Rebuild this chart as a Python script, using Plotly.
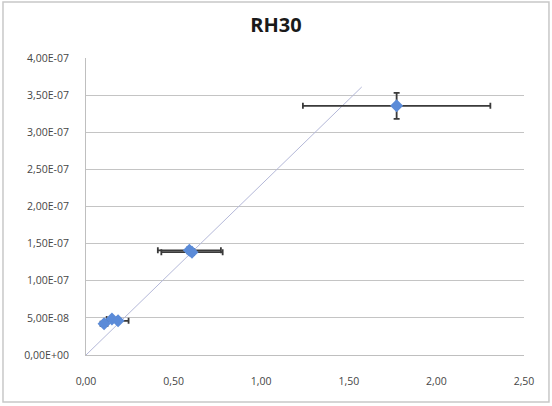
import plotly.graph_objects as go

# punti misurati (x, y) con barre d'errore
pt_x = [0.103, 0.148, 0.183, 0.59, 0.605, 1.773]
pt_y = [4.2e-8, 4.85e-8, 4.6e-8, 1.41e-7, 1.385e-7, 3.356e-7]
err_x = [0.02, 0.03, 0.06, 0.18, 0.175, 0.535]
err_y = [2e-9, 2e-9, 2e-9, 4e-9, 4e-9, 1.75e-8]

# retta di tendenza
trend_x = [0.0, 1.574]
trend_y = [0.0, 3.61e-7]

y_ticks = [0, 5e-8, 1e-7, 1.5e-7, 2e-7, 2.5e-7, 3e-7, 3.5e-7, 4e-7]
y_labels = ["0,00E+00", "5,00E-08", "1,00E-07", "1,50E-07", "2,00E-07",
            "2,50E-07", "3,00E-07", "3,50E-07", "4,00E-07"]

fig = go.Figure()

fig.add_trace(go.Scatter(
    x=trend_x, y=trend_y, mode="lines",
    line=dict(color="#B4B8D8", width=1), hoverinfo="skip"
))

fig.add_trace(go.Scatter(
    x=pt_x, y=pt_y, mode="markers",
    marker=dict(symbol="diamond", size=10, color="#5B8BD8"),
    error_x=dict(type="data", array=err_x, color="#3A3A3A", thickness=1.8, width=3),
    error_y=dict(type="data", array=err_y, color="#3A3A3A", thickness=1.8, width=3),
))

fig.update_layout(
    width=552, height=406,
    margin=dict(l=86, r=28, t=58, b=51),
    paper_bgcolor="white", plot_bgcolor="white",
    showlegend=False,
    separators=",.",
    font=dict(family="Open Sans, sans-serif", size=10.5, color="#464646"),
    title=dict(text="<b>RH30</b>", x=0.5, xanchor="center", y=0.938, yanchor="middle",
               font=dict(size=20, color="#1a1a1a")),
    xaxis=dict(range=[0, 2.5], dtick=0.5, tickformat=".2f", showgrid=False,
               showline=True, linecolor="#BFBFBF", linewidth=1, zeroline=False,
               ticks="", ticklabelstandoff=16),
    yaxis=dict(range=[0, 4e-7], tickvals=y_ticks, ticktext=y_labels,
               showgrid=True, gridcolor="#C4C4C4", gridwidth=1.3,
               showline=True, linecolor="#BFBFBF", linewidth=1, zeroline=False,
               ticks="", ticklabelstandoff=14),
    shapes=[dict(type="rect", xref="paper", yref="paper",
                 x0=-0.1895, x1=1.057, y0=-0.158, y1=1.1886,
                 line=dict(color="#C8C8C8", width=1.5), layer="below")],
)

fig.write_html("out.html", config={"displayModeBar": False},
               post_script="document.body.style.margin='0';")
